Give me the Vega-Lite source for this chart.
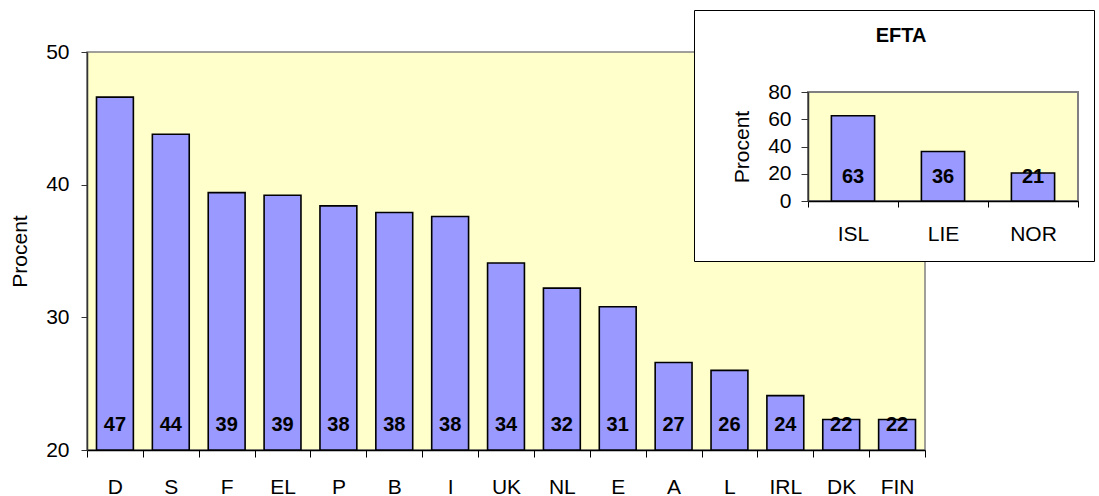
{
  "$schema": "https://vega.github.io/schema/vega-lite/v6.json",
  "autosize": {"type": "pad"},
  "padding": {"left": 8, "top": 7, "right": 0, "bottom": 0},
  "background": "white",
  "config": {
    "font": "Liberation Sans",
    "axis": {
      "labelFont": "Liberation Sans",
      "titleFont": "Liberation Sans",
      "labelFontSize": 21,
      "titleFontSize": 21,
      "titleFontWeight": "normal",
      "labelColor": "black",
      "titleColor": "black",
      "grid": false,
      "labelOverlap": false
    },
    "title": {"font": "Liberation Sans"}
  },
  "datasets": {
    "eu": [
      {"land": "D", "procent": 46.6},
      {"land": "S", "procent": 43.8},
      {"land": "F", "procent": 39.4},
      {"land": "EL", "procent": 39.2},
      {"land": "P", "procent": 38.4},
      {"land": "B", "procent": 37.9},
      {"land": "I", "procent": 37.6},
      {"land": "UK", "procent": 34.1},
      {"land": "NL", "procent": 32.2},
      {"land": "E", "procent": 30.8},
      {"land": "A", "procent": 26.6},
      {"land": "L", "procent": 26.0},
      {"land": "IRL", "procent": 24.1},
      {"land": "DK", "procent": 22.3},
      {"land": "FIN", "procent": 22.3}
    ],
    "efta": [
      {"land": "ISL", "procent": 62.6},
      {"land": "LIE", "procent": 36.3},
      {"land": "NOR", "procent": 20.6}
    ]
  },
  "spacing": 607,
  "bounds": "flush",
  "hconcat": [
    {
      "spacing": 41,
      "bounds": "flush",
      "vconcat": [
        {
          "width": 1,
          "height": 1,
          "data": {"values": [{}]},
          "mark": {"type": "point", "opacity": 0},
          "view": {"stroke": null, "fill": null}
        },
        {
          "width": 838,
          "height": 398,
          "data": {"name": "eu"},
          "view": {"fill": "#FFFFCC", "stroke": "#808080", "strokeWidth": 1.5},
          "encoding": {
            "x": {
              "field": "land",
              "type": "nominal",
              "sort": null,
              "scale": {"paddingInner": 0, "paddingOuter": 0},
              "axis": {
                "title": null,
                "labelAngle": 0,
                "labelOverlap": false,
                "tickBand": "extent",
                "tickSize": 7,
                "tickColor": "black",
                "domainColor": "black",
                "domainWidth": 1.5,
                "labelPadding": 19
              }
            }
          },
          "layer": [
            {
              "mark": {"type": "bar", "width": {"band": 0.66}, "fill": "#9999FF", "stroke": "black", "strokeWidth": 1.6},
              "encoding": {
                "y": {
                  "field": "procent",
                  "type": "quantitative",
                  "scale": {"domain": [20, 50], "nice": false, "zero": false},
                  "axis": {
                    "title": "Procent",
                    "values": [20, 30, 40, 50],
                    "tickCount": 4,
                    "labelOverlap": false,
                    "tickSize": 6,
                    "labelPadding": 12,
                    "titlePadding": 15,
                    "tickColor": "#333333",
                    "domainColor": "#333333",
                    "domainWidth": 1.5
                  }
                },
                "y2": {"datum": 20}
              }
            },
            {
              "mark": {"type": "text", "fontWeight": "bold", "fontSize": 20, "baseline": "middle", "color": "black"},
              "encoding": {
                "y": {"datum": 21.9, "type": "quantitative"},
                "text": {"field": "procent", "type": "quantitative", "format": ".0f"}
              }
            }
          ]
        }
      ]
    },
    {
      "spacing": 114,
      "bounds": "flush",
      "hconcat": [
        {
          "bounds": "flush",
          "vconcat": [
            {
              "width": 400,
              "height": 251,
              "data": {"values": [{}]},
              "mark": {"type": "point", "opacity": 0},
              "view": {"fill": "white", "stroke": "black", "strokeWidth": 1},
              "title": {
                "text": "EFTA",
                "fontSize": 20,
                "fontWeight": "bold",
                "color": "black",
                "anchor": "middle",
                "baseline": "alphabetic",
                "offset": -33,
                "dx": 7,
                "dy": 19
              }
            }
          ]
        },
        {
          "spacing": 81,
          "bounds": "flush",
          "vconcat": [
            {
              "width": 1,
              "height": 1,
              "data": {"values": [{}]},
              "mark": {"type": "point", "opacity": 0},
              "view": {"stroke": null, "fill": null}
            },
            {
              "width": 270,
              "height": 109,
              "data": {"name": "efta"},
              "view": {"fill": "#FFFFCC", "stroke": "#808080", "strokeWidth": 2},
              "encoding": {
                "x": {
                  "field": "land",
                  "type": "nominal",
                  "sort": null,
                  "scale": {"paddingInner": 0, "paddingOuter": 0},
                  "axis": {
                    "title": null,
                    "labelAngle": 0,
                    "labelOverlap": false,
                    "tickBand": "extent",
                    "tickSize": 6,
                    "tickColor": "black",
                    "domainColor": "black",
                    "domainWidth": 1.5,
                    "labelPadding": 16
                  }
                }
              },
              "layer": [
                {
                  "mark": {"type": "bar", "width": {"band": 0.48}, "fill": "#9999FF", "stroke": "black", "strokeWidth": 1.6},
                  "encoding": {
                    "y": {
                      "field": "procent",
                      "type": "quantitative",
                      "scale": {"domain": [0, 80], "nice": false},
                      "axis": {
                        "title": "Procent",
                        "values": [0, 20, 40, 60, 80],
                        "tickCount": 5,
                        "labelOverlap": false,
                        "tickSize": 7,
                        "labelPadding": 10,
                        "titlePadding": 15,
                        "tickColor": "#333333",
                        "domainColor": "#333333",
                        "domainWidth": 1.5
                      }
                    },
                    "y2": {"datum": 0}
                  }
                },
                {
                  "mark": {"type": "text", "fontWeight": "bold", "fontSize": 20, "baseline": "middle", "color": "black"},
                  "encoding": {
                    "y": {"datum": 17.5, "type": "quantitative"},
                    "text": {"field": "procent", "type": "quantitative", "format": ".0f"}
                  }
                }
              ]
            }
          ]
        }
      ]
    }
  ]
}
